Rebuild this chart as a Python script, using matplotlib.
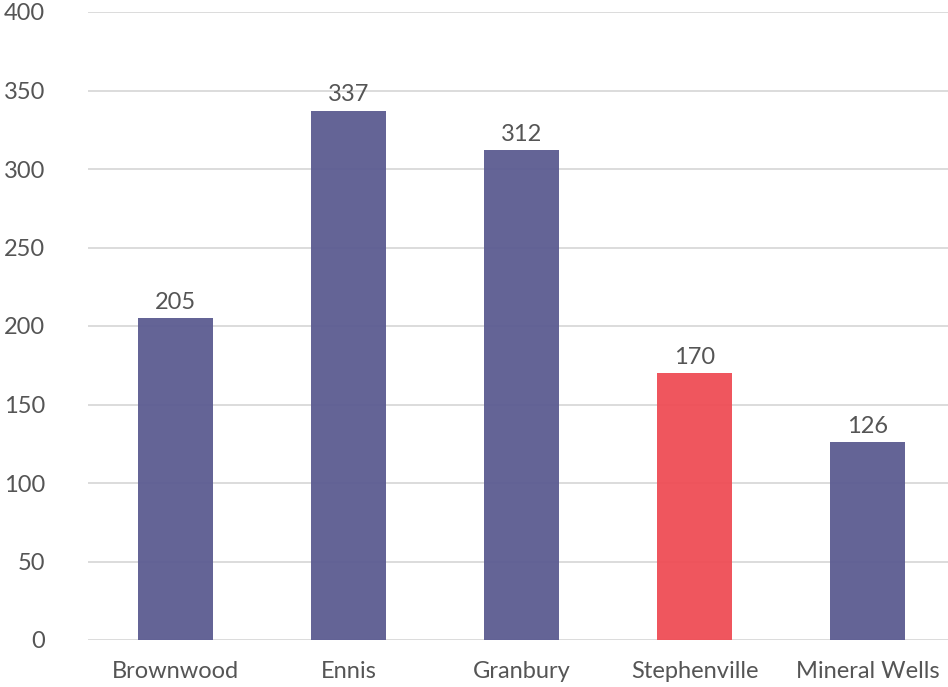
import numpy as np
import matplotlib.pyplot as plt

plt.rcParams['font.family'] = ['Lato', 'DejaVu Sans']

towns = ['Brownwood', 'Ennis', 'Granbury', 'Stephenville', 'Mineral Wells']
counts = [205, 337, 312, 170, 126]
bar_colors = ['#5c5c91', '#5c5c91', '#5c5c91', '#ef4d55', '#5c5c91']
yticks = [0, 50, 100, 150, 200, 250, 300, 350, 400]

fig = plt.figure(figsize=(9.48, 6.87), dpi=100)
ax = fig.add_axes([88/948, 1 - 640/687, 860/948, 628/687])

x = np.arange(len(towns))
bars = ax.bar(x, counts, width=0.434, color=bar_colors, alpha=0.95, zorder=3)

# value above each bar
for b, v in zip(bars, counts):
    ax.annotate(str(v), (b.get_x() + b.get_width()/2, v), xytext=(0, 4),
                textcoords='offset points', ha='center', va='bottom',
                fontsize=17, color='#555555', zorder=4)

ax.set_ylim(0, 400)
ax.set_xlim(-0.506, 4.465)
ax.set_yticks(yticks)
ax.set_xticks(x)
ax.set_xticklabels(towns)
ax.yaxis.grid(True, color='#d9d9d9', linewidth=1.3, zorder=0)
ax.set_axisbelow(True)
for s in ax.spines.values():
    s.set_visible(False)
ax.tick_params(axis='both', length=0, labelsize=17, labelcolor='#555555')
ax.tick_params(axis='y', pad=31)
ax.tick_params(axis='x', pad=15)

fig.savefig('out.png', dpi=100)
